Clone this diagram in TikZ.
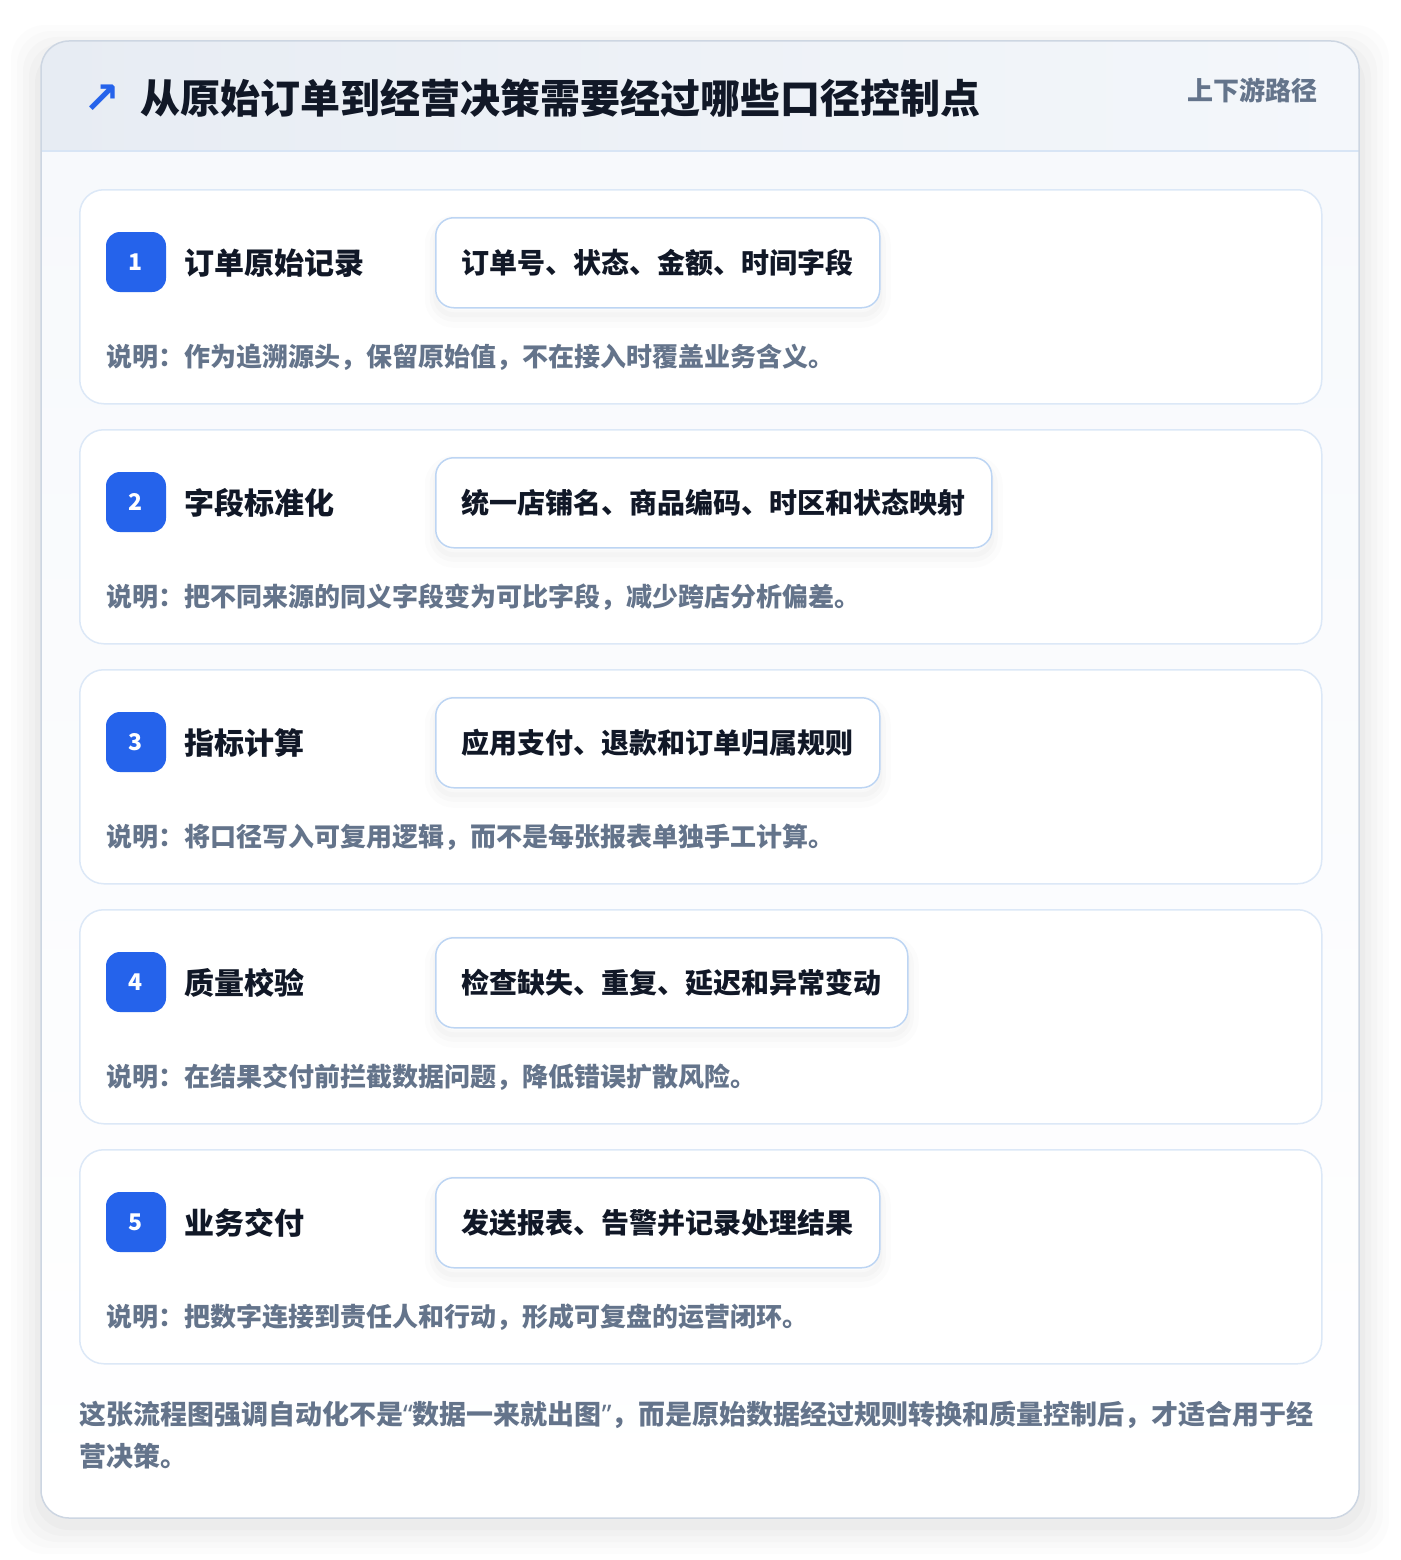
\documentclass[tikz,border=0pt]{standalone}
\usepackage{fontspec}
\setmainfont{Noto Sans CJK SC}
\newfontfamily\symfont{DejaVu Sans}
\newfontfamily\latfont{Noto Sans}
\definecolor{cardborder}{HTML}{CDD6E2}
\definecolor{headL}{HTML}{E7ECF3}
\definecolor{headR}{HTML}{F4F7FB}
\definecolor{headline}{HTML}{D8E5F5}
\definecolor{bodytop}{HTML}{F7F9FC}
\definecolor{stepborder}{HTML}{DCE8F7}
\definecolor{tagborder}{HTML}{BDD5F3}
\definecolor{badgeblue}{HTML}{2563EB}
\definecolor{inkdark}{HTML}{111827}
\definecolor{inkmuted}{HTML}{64748B}
\tikzset{
  stepcard/.style={draw=stepborder, line width=1.5pt, fill=white, rounded corners=24pt,
    minimum width=1242pt, minimum height=214pt, anchor=north west, inner sep=0pt},
  badge/.style={fill=badgeblue, rounded corners=14pt, minimum size=60pt, inner sep=0pt,
    text=white, font=\bfseries\fontsize{23}{27}\selectfont},
  steptitle/.style={anchor=west, inner sep=0pt, text=inkdark, font=\bfseries\fontsize{30}{36}\selectfont},
  tagshadow/.style={preaction={draw=black, draw opacity=0.012, line width=22pt, transform canvas={yshift=-9pt}},
    preaction={draw=black, draw opacity=0.014, line width=12pt, transform canvas={yshift=-8pt}},
    preaction={draw=black, draw opacity=0.016, line width=5pt, transform canvas={yshift=-7pt}}},
  tagbox/.style={tagshadow, draw=tagborder, line width=1.5pt, fill=white, rounded corners=18pt,
    minimum height=90pt, inner xsep=26pt, anchor=north west, text=inkdark,
    font=\bfseries\fontsize{28}{34}\selectfont},
  desc/.style={anchor=west, inner sep=0pt, text=inkmuted, font=\bfseries\fontsize{26}{32}\selectfont},
  foot/.style={anchor=west, inner sep=0pt, text=inkmuted, font=\bfseries\fontsize{27}{34}\selectfont},
}
\begin{document}
\begin{tikzpicture}[x=1pt,y=-1pt]
\useasboundingbox (0,0) rectangle (1400,1560);
\fill[white] (0,0) rectangle (1400,1560);
% soft outer shadow
\foreach \d/\op in {30/0.010,24/0.012,18/0.014,12/0.016,6/0.02}{
  \fill[black,opacity=\op,rounded corners=34pt] (41-\d,41-\d+14) rectangle (1359+\d,1518+\d+6);
}
% main card
\node[draw=none, fill=white, rounded corners=28pt, minimum width=1318pt, minimum height=1477pt,
  anchor=north west, inner sep=0pt] (card) at (41,41) {};
\begin{scope}
  \clip[rounded corners=28pt] (41,41) rectangle (1359,1518);
  \shade[top color=bodytop, bottom color=white] (41,151) rectangle (1359,1518);
  \shade[left color=headL, right color=headR] (41,41) rectangle (1359,151);
\end{scope}
\draw[headline, line width=1.5pt] (41,151) -- (1359,151);
\draw[cardborder, line width=1.5pt, rounded corners=28pt] (41,41) rectangle (1359,1518);
% header
\node[anchor=center, inner sep=0pt, text=badgeblue, font=\symfont\bfseries\fontsize{44}{50}\selectfont] (icon) at (102,99) {↗};
\node[anchor=west, inner sep=0pt, text=inkdark, font=\bfseries\fontsize{40}{48}\selectfont] (title) at (140,98) {从原始订单到经营决策需要经过哪些口径控制点};
\node[anchor=east, inner sep=0pt, text=inkmuted, font=\bfseries\fontsize{26}{32}\selectfont] (route) at (1318,90) {上下游路径};
% steps
\foreach \i/\ttl/\tag/\dsc in {
  1/订单原始记录/订单号、状态、金额、时间字段/说明：作为追溯源头，保留原始值，不在接入时覆盖业务含义。,
  2/字段标准化/统一店铺名、商品编码、时区和状态映射/说明：把不同来源的同义字段变为可比字段，减少跨店分析偏差。,
  3/指标计算/应用支付、退款和订单归属规则/说明：将口径写入可复用逻辑，而不是每张报表单独手工计算。,
  4/质量校验/检查缺失、重复、延迟和异常变动/说明：在结果交付前拦截数据问题，降低错误扩散风险。,
  5/业务交付/发送报表、告警并记录处理结果/说明：把数字连接到责任人和行动，形成可复盘的运营闭环。}{
  \pgfmathsetmacro\top{189+240*(\i-1)}
  \node[stepcard] (step\i) at (79,\top) {};
  \node[badge] (badge\i) at (136,\top+73) {\i};
  \node[steptitle] (title\i) at (184,\top+74) {\ttl};
  \node[tagbox] (tag\i) at (435,\top+28) {\tag};
  \node[desc] (desc\i) at (106,\top+168) {\dsc};
}
% footer
\node[foot] (foot1) at (79,1415) {这张流程图强调自动化不是{\latfont“}数据一来就出图{\latfont”}，而是原始数据经过规则转换和质量控制后，才适合用于经};
\node[foot] (foot2) at (79,1456) {营决策。};
\end{tikzpicture}
\end{document}
